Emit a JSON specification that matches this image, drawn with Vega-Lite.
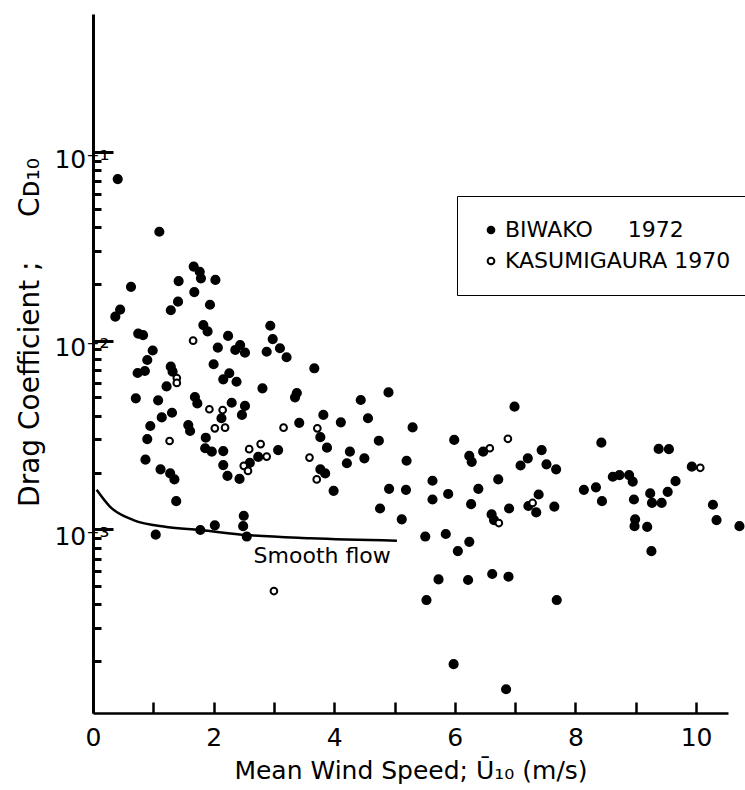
{
  "$schema": "https://vega.github.io/schema/vega-lite/v6.json",
  "width": 635,
  "height": 699,
  "autosize": "none",
  "padding": {"left": 93, "top": 14, "right": 17, "bottom": 77},
  "background": "white",
  "config": {
    "view": {"stroke": null},
    "font": "DejaVu Sans",
    "axis": {"domainColor": "black", "tickColor": "black", "labelColor": "black", "titleColor": "black", "grid": false, "labelFont": "DejaVu Sans", "titleFont": "DejaVu Sans"},
    "legend": {"labelFont": "DejaVu Sans"}
  },
  "datasets": {
    "curve": [
      {"u": 0.06, "cd": 0.00162},
      {"u": 0.28, "cd": 0.00132},
      {"u": 0.67, "cd": 0.00112},
      {"u": 1.22, "cd": 0.00103},
      {"u": 1.77, "cd": 0.000992},
      {"u": 2.55, "cd": 0.000933},
      {"u": 3.60, "cd": 0.000897},
      {"u": 5.04, "cd": 0.000871}
    ],
    "lab": [
      {"u": 3.80, "cd": 0.000722, "t": "Smooth flow"}
    ],
    "pts": [
      {"u": 0.41, "cd": 0.0719, "s": "B"},
      {"u": 1.10, "cd": 0.0378, "s": "B"},
      {"u": 0.63, "cd": 0.0193, "s": "B"},
      {"u": 1.42, "cd": 0.0207, "s": "B"},
      {"u": 1.67, "cd": 0.0247, "s": "B"},
      {"u": 1.77, "cd": 0.0232, "s": "B"},
      {"u": 1.79, "cd": 0.0214, "s": "B"},
      {"u": 2.03, "cd": 0.0210, "s": "B"},
      {"u": 1.68, "cd": 0.0181, "s": "B"},
      {"u": 1.41, "cd": 0.0161, "s": "B"},
      {"u": 1.94, "cd": 0.0155, "s": "B"},
      {"u": 1.29, "cd": 0.0145, "s": "B"},
      {"u": 0.37, "cd": 0.0134, "s": "B"},
      {"u": 0.45, "cd": 0.0146, "s": "B"},
      {"u": 0.75, "cd": 0.0109, "s": "B"},
      {"u": 0.83, "cd": 0.0107, "s": "B"},
      {"u": 1.83, "cd": 0.0121, "s": "B"},
      {"u": 1.90, "cd": 0.0112, "s": "B"},
      {"u": 2.24, "cd": 0.0106, "s": "B"},
      {"u": 2.07, "cd": 0.00918, "s": "B"},
      {"u": 2.36, "cd": 0.00893, "s": "B"},
      {"u": 2.44, "cd": 0.00949, "s": "B"},
      {"u": 2.52, "cd": 0.00864, "s": "B"},
      {"u": 2.94, "cd": 0.0120, "s": "B"},
      {"u": 2.98, "cd": 0.0102, "s": "B"},
      {"u": 2.88, "cd": 0.00874, "s": "B"},
      {"u": 3.10, "cd": 0.00912, "s": "B"},
      {"u": 3.21, "cd": 0.00817, "s": "B"},
      {"u": 0.99, "cd": 0.00887, "s": "B"},
      {"u": 0.90, "cd": 0.00790, "s": "B"},
      {"u": 0.74, "cd": 0.00674, "s": "B"},
      {"u": 0.86, "cd": 0.00691, "s": "B"},
      {"u": 1.29, "cd": 0.00728, "s": "B"},
      {"u": 1.32, "cd": 0.00685, "s": "B"},
      {"u": 2.00, "cd": 0.00750, "s": "B"},
      {"u": 2.26, "cd": 0.00672, "s": "B"},
      {"u": 2.16, "cd": 0.00624, "s": "B"},
      {"u": 2.38, "cd": 0.00606, "s": "B"},
      {"u": 2.81, "cd": 0.00559, "s": "B"},
      {"u": 3.38, "cd": 0.00528, "s": "B"},
      {"u": 3.35, "cd": 0.00501, "s": "B"},
      {"u": 1.22, "cd": 0.00572, "s": "B"},
      {"u": 0.71, "cd": 0.00495, "s": "B"},
      {"u": 1.08, "cd": 0.00483, "s": "B"},
      {"u": 1.69, "cd": 0.00503, "s": "B"},
      {"u": 1.73, "cd": 0.00465, "s": "B"},
      {"u": 1.31, "cd": 0.00415, "s": "B"},
      {"u": 1.14, "cd": 0.00392, "s": "B"},
      {"u": 2.30, "cd": 0.00469, "s": "B"},
      {"u": 2.52, "cd": 0.00451, "s": "B"},
      {"u": 2.47, "cd": 0.00404, "s": "B"},
      {"u": 2.13, "cd": 0.00388, "s": "B"},
      {"u": 3.42, "cd": 0.00367, "s": "B"},
      {"u": 0.95, "cd": 0.00353, "s": "B"},
      {"u": 0.90, "cd": 0.00301, "s": "B"},
      {"u": 1.58, "cd": 0.00357, "s": "B"},
      {"u": 1.61, "cd": 0.00332, "s": "B"},
      {"u": 1.87, "cd": 0.00306, "s": "B"},
      {"u": 1.86, "cd": 0.00269, "s": "B"},
      {"u": 1.97, "cd": 0.00258, "s": "B"},
      {"u": 2.16, "cd": 0.00260, "s": "B"},
      {"u": 2.74, "cd": 0.00242, "s": "B"},
      {"u": 3.07, "cd": 0.00263, "s": "B"},
      {"u": 0.87, "cd": 0.00234, "s": "B"},
      {"u": 1.12, "cd": 0.00208, "s": "B"},
      {"u": 1.28, "cd": 0.00198, "s": "B"},
      {"u": 1.35, "cd": 0.00184, "s": "B"},
      {"u": 2.16, "cd": 0.00219, "s": "B"},
      {"u": 2.23, "cd": 0.00192, "s": "B"},
      {"u": 2.43, "cd": 0.00185, "s": "B"},
      {"u": 2.60, "cd": 0.00225, "s": "B"},
      {"u": 1.38, "cd": 0.00141, "s": "B"},
      {"u": 1.04, "cd": 0.000937, "s": "B"},
      {"u": 1.78, "cd": 0.000992, "s": "B"},
      {"u": 2.02, "cd": 0.00105, "s": "B"},
      {"u": 2.50, "cd": 0.00118, "s": "B"},
      {"u": 2.49, "cd": 0.00104, "s": "B"},
      {"u": 2.55, "cd": 0.000916, "s": "B"},
      {"u": 3.67, "cd": 0.00714, "s": "B"},
      {"u": 4.90, "cd": 0.00532, "s": "B"},
      {"u": 4.44, "cd": 0.00485, "s": "B"},
      {"u": 4.56, "cd": 0.00388, "s": "B"},
      {"u": 3.82, "cd": 0.00404, "s": "B"},
      {"u": 3.77, "cd": 0.00308, "s": "B"},
      {"u": 3.88, "cd": 0.00271, "s": "B"},
      {"u": 4.11, "cd": 0.00369, "s": "B"},
      {"u": 5.30, "cd": 0.00347, "s": "B"},
      {"u": 4.74, "cd": 0.00295, "s": "B"},
      {"u": 4.26, "cd": 0.00258, "s": "B"},
      {"u": 4.21, "cd": 0.00224, "s": "B"},
      {"u": 4.50, "cd": 0.00238, "s": "B"},
      {"u": 3.77, "cd": 0.00208, "s": "B"},
      {"u": 3.85, "cd": 0.00198, "s": "B"},
      {"u": 3.99, "cd": 0.00160, "s": "B"},
      {"u": 4.91, "cd": 0.00164, "s": "B"},
      {"u": 5.19, "cd": 0.00162, "s": "B"},
      {"u": 5.20, "cd": 0.00231, "s": "B"},
      {"u": 5.99, "cd": 0.00298, "s": "B"},
      {"u": 5.63, "cd": 0.00181, "s": "B"},
      {"u": 5.63, "cd": 0.00144, "s": "B"},
      {"u": 5.89, "cd": 0.00154, "s": "B"},
      {"u": 6.24, "cd": 0.00245, "s": "B"},
      {"u": 6.28, "cd": 0.00228, "s": "B"},
      {"u": 6.47, "cd": 0.00258, "s": "B"},
      {"u": 6.99, "cd": 0.00447, "s": "B"},
      {"u": 7.09, "cd": 0.00218, "s": "B"},
      {"u": 7.21, "cd": 0.00238, "s": "B"},
      {"u": 6.72, "cd": 0.00184, "s": "B"},
      {"u": 6.39, "cd": 0.00164, "s": "B"},
      {"u": 6.27, "cd": 0.00136, "s": "B"},
      {"u": 6.90, "cd": 0.00129, "s": "B"},
      {"u": 6.61, "cd": 0.00120, "s": "B"},
      {"u": 6.65, "cd": 0.00112, "s": "B"},
      {"u": 4.76, "cd": 0.00129, "s": "B"},
      {"u": 5.12, "cd": 0.00113, "s": "B"},
      {"u": 5.51, "cd": 0.000916, "s": "B"},
      {"u": 5.85, "cd": 0.000945, "s": "B"},
      {"u": 6.24, "cd": 0.000859, "s": "B"},
      {"u": 6.05, "cd": 0.000767, "s": "B"},
      {"u": 7.44, "cd": 0.00263, "s": "B"},
      {"u": 7.52, "cd": 0.00221, "s": "B"},
      {"u": 7.68, "cd": 0.00208, "s": "B"},
      {"u": 7.39, "cd": 0.00153, "s": "B"},
      {"u": 7.22, "cd": 0.00133, "s": "B"},
      {"u": 7.35, "cd": 0.00123, "s": "B"},
      {"u": 7.65, "cd": 0.00132, "s": "B"},
      {"u": 8.43, "cd": 0.00288, "s": "B"},
      {"u": 8.14, "cd": 0.00162, "s": "B"},
      {"u": 8.34, "cd": 0.00167, "s": "B"},
      {"u": 8.44, "cd": 0.00141, "s": "B"},
      {"u": 8.62, "cd": 0.00190, "s": "B"},
      {"u": 8.73, "cd": 0.00194, "s": "B"},
      {"u": 8.89, "cd": 0.00194, "s": "B"},
      {"u": 8.95, "cd": 0.00179, "s": "B"},
      {"u": 8.97, "cd": 0.00144, "s": "B"},
      {"u": 8.99, "cd": 0.00113, "s": "B"},
      {"u": 8.98, "cd": 0.00104, "s": "B"},
      {"u": 9.19, "cd": 0.00103, "s": "B"},
      {"u": 9.26, "cd": 0.000766, "s": "B"},
      {"u": 9.38, "cd": 0.00267, "s": "B"},
      {"u": 9.55, "cd": 0.00266, "s": "B"},
      {"u": 9.24, "cd": 0.00155, "s": "B"},
      {"u": 9.27, "cd": 0.00138, "s": "B"},
      {"u": 9.43, "cd": 0.00138, "s": "B"},
      {"u": 9.53, "cd": 0.00158, "s": "B"},
      {"u": 9.66, "cd": 0.00180, "s": "B"},
      {"u": 9.93, "cd": 0.00215, "s": "B"},
      {"u": 10.28, "cd": 0.00135, "s": "B"},
      {"u": 10.34, "cd": 0.00112, "s": "B"},
      {"u": 10.72, "cd": 0.00104, "s": "B"},
      {"u": 7.69, "cd": 0.000422, "s": "B"},
      {"u": 5.73, "cd": 0.000543, "s": "B"},
      {"u": 6.22, "cd": 0.000539, "s": "B"},
      {"u": 6.62, "cd": 0.000580, "s": "B"},
      {"u": 6.89, "cd": 0.000561, "s": "B"},
      {"u": 5.53, "cd": 0.000422, "s": "B"},
      {"u": 5.98, "cd": 0.000193, "s": "B"},
      {"u": 6.85, "cd": 0.000142, "s": "B"},
      {"u": 1.66, "cd": 0.0100, "s": "K"},
      {"u": 1.39, "cd": 0.00634, "s": "K"},
      {"u": 1.39, "cd": 0.00597, "s": "K"},
      {"u": 1.93, "cd": 0.00433, "s": "K"},
      {"u": 2.15, "cd": 0.00429, "s": "K"},
      {"u": 2.02, "cd": 0.00343, "s": "K"},
      {"u": 2.19, "cd": 0.00346, "s": "K"},
      {"u": 3.16, "cd": 0.00346, "s": "K"},
      {"u": 1.27, "cd": 0.00294, "s": "K"},
      {"u": 2.59, "cd": 0.00266, "s": "K"},
      {"u": 2.78, "cd": 0.00283, "s": "K"},
      {"u": 2.88, "cd": 0.00243, "s": "K"},
      {"u": 3.59, "cd": 0.00240, "s": "K"},
      {"u": 2.50, "cd": 0.00217, "s": "K"},
      {"u": 2.57, "cd": 0.00204, "s": "K"},
      {"u": 3.72, "cd": 0.00343, "s": "K"},
      {"u": 3.71, "cd": 0.00184, "s": "K"},
      {"u": 6.58, "cd": 0.00269, "s": "K"},
      {"u": 6.88, "cd": 0.00302, "s": "K"},
      {"u": 7.29, "cd": 0.00138, "s": "K"},
      {"u": 6.73, "cd": 0.00108, "s": "K"},
      {"u": 10.07, "cd": 0.00212, "s": "K"},
      {"u": 3.00, "cd": 0.000471, "s": "K"}
    ]
  },
  "layer": [
    {
      "data": {"name": "curve"},
      "mark": {"type": "line", "interpolate": "monotone", "stroke": "black", "strokeWidth": 2.5},
      "encoding": {
        "x": {
          "field": "u", "type": "quantitative",
          "scale": {"domain": [0, 10.53], "nice": false, "zero": false},
          "axis": {
            "title": "Mean Wind Speed; Ū₁₀ (m/s)",
            "values": [0, 1, 2, 3, 4, 5, 6, 7, 8, 9, 10],
            "format": "d",
            "labelExpr": "datum.value % 2 == 0 ? datum.label : ''",
            "tickSize": -11, "tickWidth": 2.5, "domainWidth": 2.5,
            "labelFontSize": 25, "labelPadding": 23, "labelOverlap": false, "labelFlush": false,
            "titleFontSize": 25, "titleFontWeight": "normal", "titlePadding": 8
          }
        },
        "y": {
          "field": "cd", "type": "quantitative",
          "scale": {"type": "log", "domain": [0.0001063, 0.539], "nice": false},
          "axis": {
            "title": "Drag Coefficient ;\u00a0\u00a0\u00a0\u00a0\u00a0Cᴅ₁₀",
            "values": [0.1, 0.09, 0.08, 0.07, 0.06, 0.05, 0.04, 0.03, 0.02, 0.01, 0.009, 0.008, 0.007, 0.006, 0.005, 0.004, 0.003, 0.002, 0.001, 0.0009, 0.0008, 0.0007, 0.0006, 0.0005, 0.0004, 0.0003, 0.0002],
            "labelExpr": "datum.value == 0.1 ? '10⁻¹' : datum.value == 0.01 ? '10⁻²' : datum.value == 0.001 ? '10⁻³' : ''",
            "tickSize": {"condition": {"test": "datum.value == 0.1 || datum.value == 0.01 || datum.value == 0.001", "value": -20}, "value": -8},
            "tickWidth": 3, "domainWidth": 3,
            "labelFontSize": 25, "labelPadding": 4, "labelOffset": 7, "labelOverlap": false, "labelFlush": false,
            "titleFontSize": 28, "titleFontWeight": "normal",
            "titleAngle": -90, "titleAlign": "center", "titleBaseline": "middle",
            "titleX": -63, "titleY": 318
          }
        }
      }
    },
    {
      "data": {"name": "pts"},
      "transform": [{"filter": "datum.s == 'B'"}],
      "mark": {"type": "point", "shape": "circle", "stroke": "black", "strokeWidth": 1.5, "opacity": 1, "size": 75},
      "encoding": {
        "x": {"field": "u", "type": "quantitative"},
        "y": {"field": "cd", "type": "quantitative"},
        "fill": {
          "field": "s", "type": "nominal",
          "scale": {"domain": ["B", "K"], "range": ["black", "white"]},
          "legend": {
            "title": null, "orient": "none", "legendX": 364, "legendY": 182,
            "labelExpr": "datum.value == 'B' ? 'BIWAKO\u00a0\u00a0\u00a0\u00a0\u00a01972' : 'KASUMIGAURA 1970'",
            "labelFontSize": 22, "labelColor": "black", "labelLimit": 400,
            "symbolType": "circle", "symbolSize": 45, "symbolStrokeColor": "black", "symbolStrokeWidth": 2,
            "strokeColor": "black", "padding": 23, "rowPadding": 9, "labelOffset": 3,
            "fillColor": "white"
          }
        }
      }
    },
    {
      "data": {"name": "pts"},
      "transform": [{"filter": "datum.s == 'K'"}],
      "mark": {"type": "point", "shape": "circle", "stroke": "black", "strokeWidth": 2, "opacity": 1, "size": 45},
      "encoding": {
        "x": {"field": "u", "type": "quantitative"},
        "y": {"field": "cd", "type": "quantitative"},
        "fill": {"field": "s", "type": "nominal"}
      }
    },
    {
      "data": {"name": "lab"},
      "mark": {"type": "text", "fontSize": 22, "font": "DejaVu Sans", "color": "black"},
      "encoding": {
        "x": {"field": "u", "type": "quantitative"},
        "y": {"field": "cd", "type": "quantitative"},
        "text": {"field": "t"}
      }
    }
  ]
}
